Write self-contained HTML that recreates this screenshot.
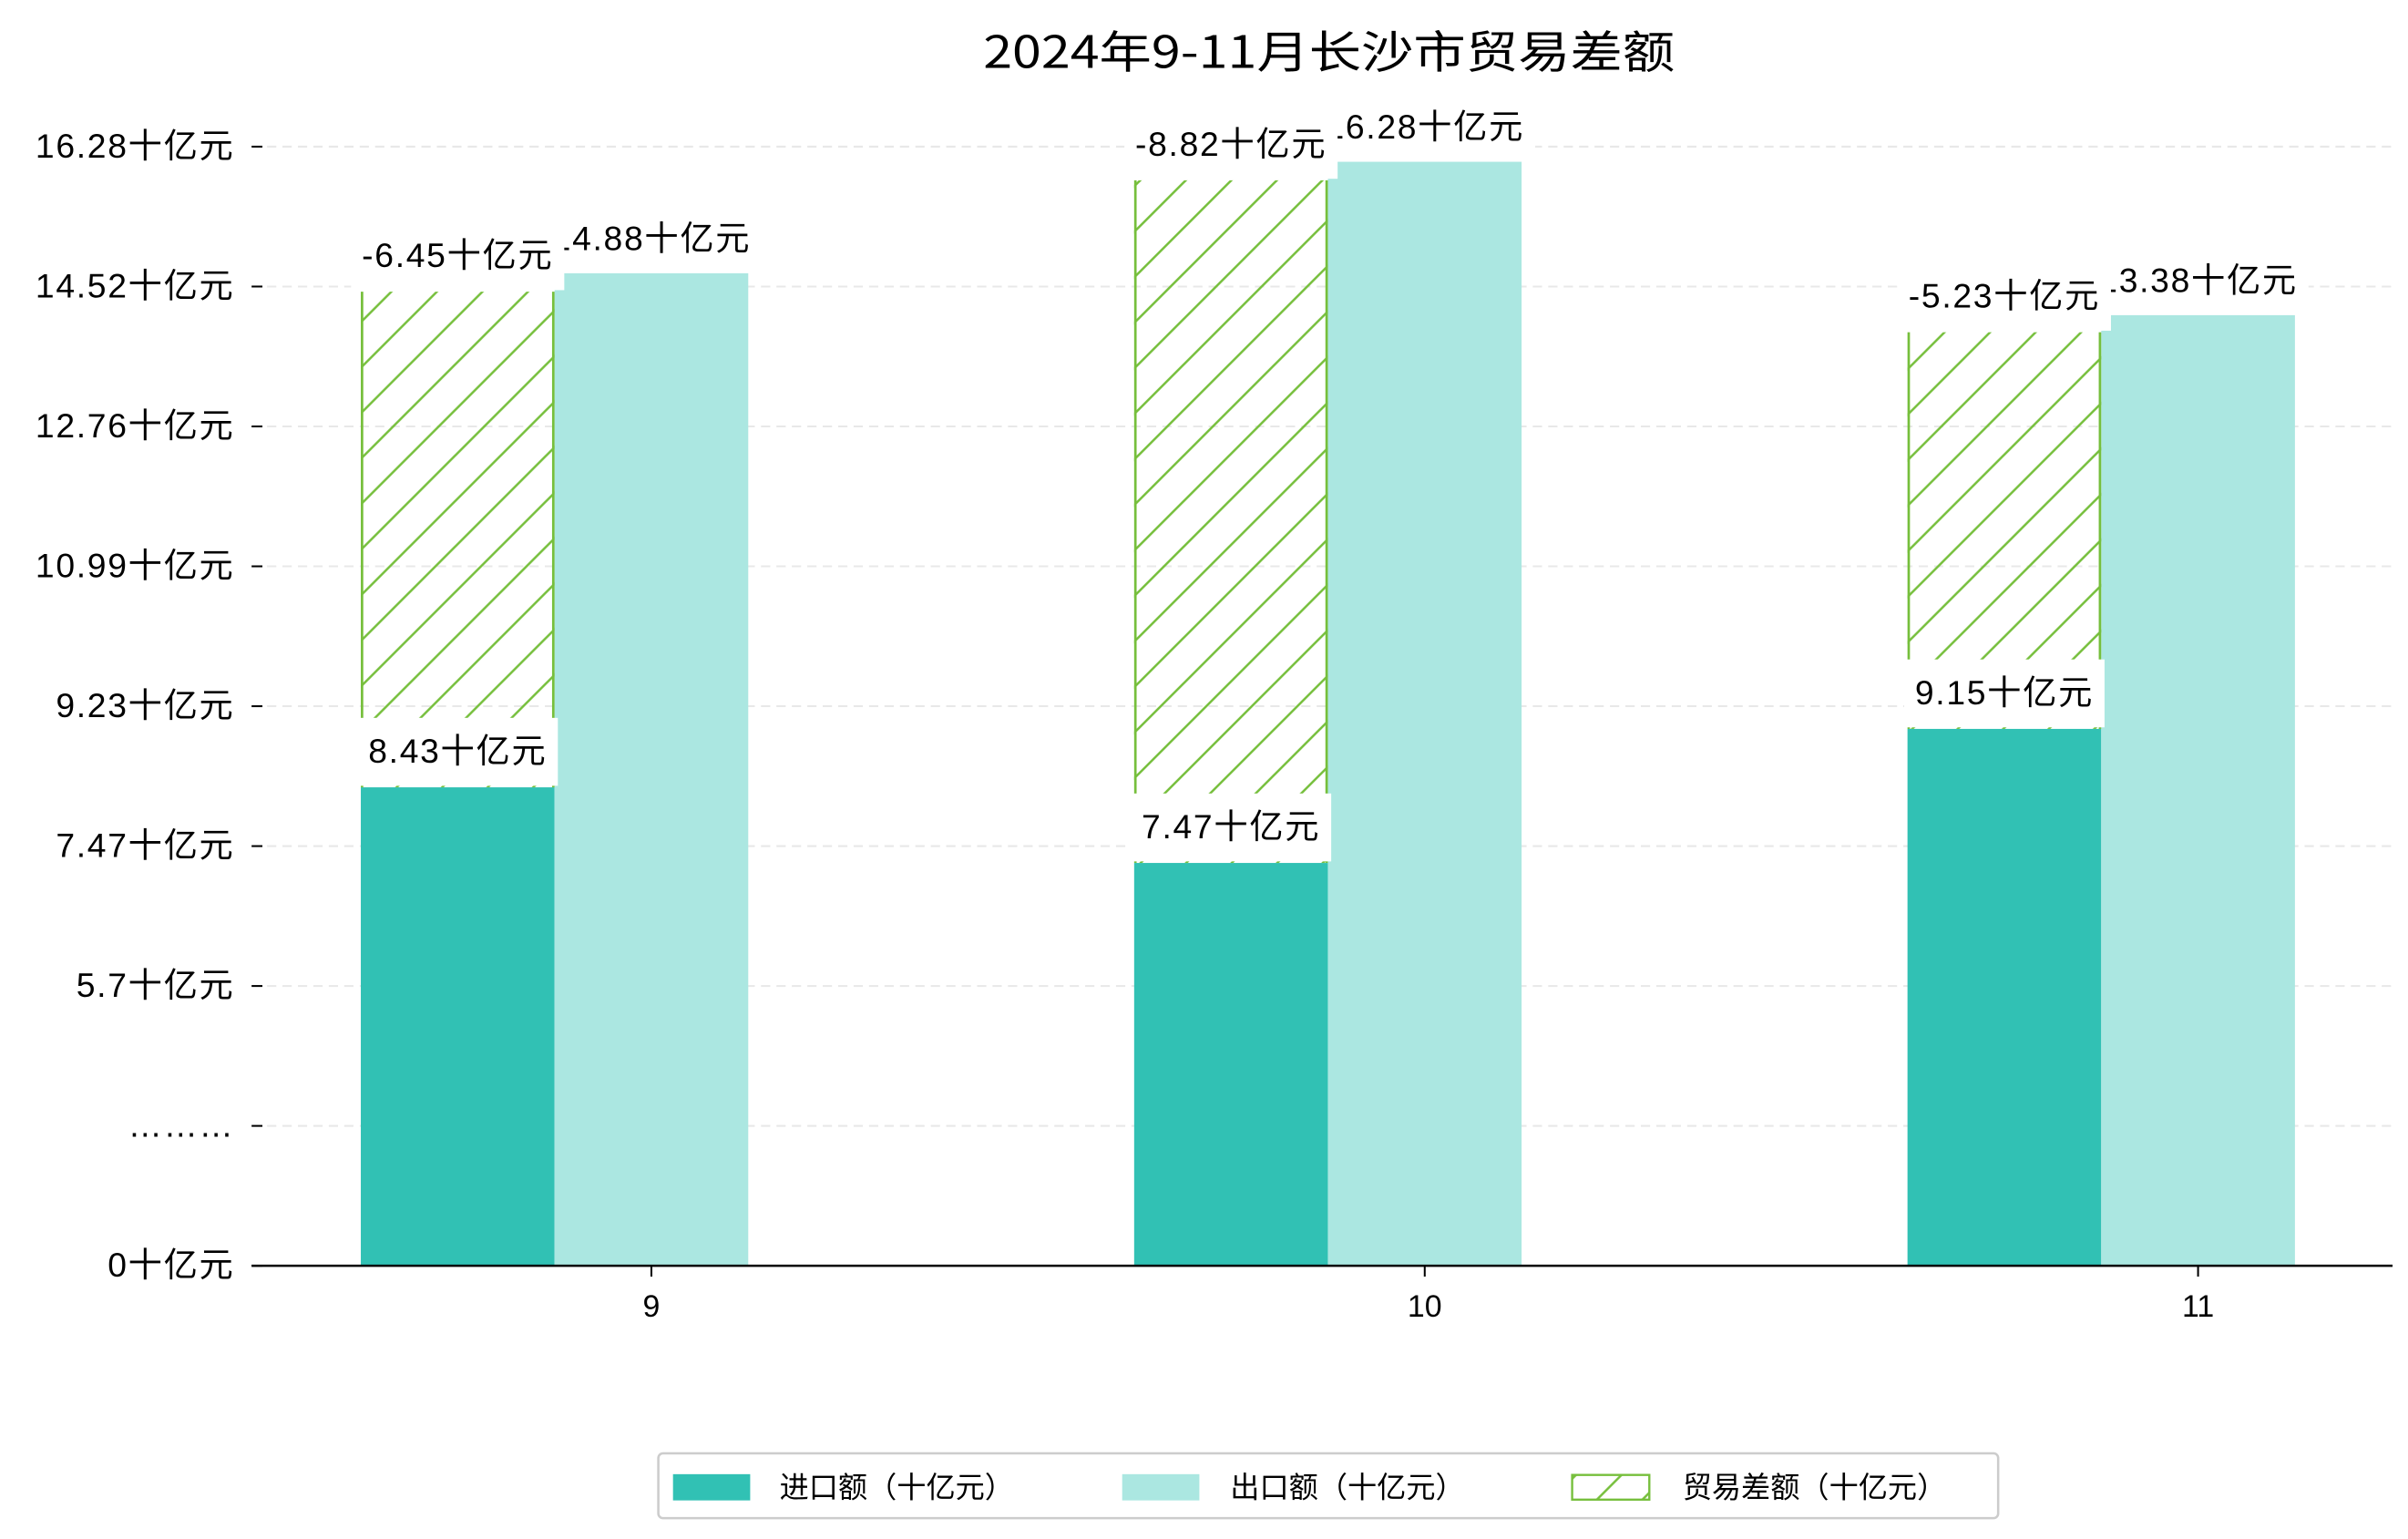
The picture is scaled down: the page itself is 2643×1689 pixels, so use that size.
<!DOCTYPE html>
<html><head><meta charset="utf-8"><style>
html,body{margin:0;padding:0;background:#fff;}
svg{display:block;font-family:"Liberation Sans","Noto Sans CJK SC",sans-serif;}
</style></head><body>
<svg id="chart" width="2643" height="1689" viewBox="0 0 1560 997" preserveAspectRatio="none" xmlns="http://www.w3.org/2000/svg">
<defs>
<pattern id="hatch" patternUnits="userSpaceOnUse" width="29.5" height="29.5">
<path d="M-2,31.5 L31.5,-2 M-31.5,31.5 L2,-2 M27.5,31.5 L61,-2" stroke="#76bf3c" stroke-width="1.5"/>
</pattern>
</defs>
<text x="861" y="44" text-anchor="middle" font-size="29" textLength="448" lengthAdjust="spacingAndGlyphs" font-family="'Noto Sans CJK SC',sans-serif">2024年9-11月长沙市贸易差额</text>
<g id="grid"></g><g id="bars"></g><g id="labels"></g><g id="axes"></g>
<g>
<rect x="426.5" y="941.5" width="868" height="42" rx="3" fill="#fff" stroke="#ccc" stroke-width="1.5"/>
<rect x="436" y="955" width="50" height="17" fill="#31c1b4"/>
<text x="505" y="970" font-size="19">进口额（十亿元）</text>
<rect x="727" y="955" width="50" height="17" fill="#abe7e1"/>
<text x="797" y="970" font-size="19">出口额（十亿元）</text>
<rect x="1018.5" y="955.5" width="50" height="16" fill="url(#hatch)" stroke="#76bf3c" stroke-width="1.4"/>
<text x="1090" y="970" font-size="19">贸易差额（十亿元）</text>
</g>
</svg>
<script>
const categories = ['9','10','11'];
const importValues = [6.96, 5.86, 7.81];
const exportValues = [14.44, 16.06, 13.83];
const balanceHeights = [7.21, 9.93, 5.77];
const importLabels = ['8.43十亿元','7.47十亿元','9.15十亿元'];
const exportLabels = ['14.88十亿元','16.28十亿元','13.38十亿元'];
const balanceLabels = ['-6.45十亿元','-8.82十亿元','-5.23十亿元'];
const yTickLabels = ['0十亿元','………','5.7十亿元','7.47十亿元','9.23十亿元','10.99十亿元','12.76十亿元','14.52十亿元','16.28十亿元'];
const yMaxTick = 16.28;

const NS='http://www.w3.org/2000/svg';
const plotL=163, plotR=1550, plotB=820, plotT=95;
function y(v){return plotB - v*(plotB-plotT)/yMaxTick;}
function xc(i){return 422 + i*501;}
const bw=125.5;
function mk(tag,attrs,parent){const e=document.createElementNS(NS,tag);for(const k in attrs)e.setAttribute(k,attrs[k]);parent.appendChild(e);return e;}
const grid=document.getElementById('grid'),bars=document.getElementById('bars'),labels=document.getElementById('labels'),axes=document.getElementById('axes');

yTickLabels.forEach((t,k)=>{
  const v=k*yMaxTick/(yTickLabels.length-1), yy=y(v);
  if(k>0){const g=mk('line',{x1:plotL,x2:plotR,y1:yy,y2:yy,stroke:'#e8e8e8','stroke-width':1.2,'stroke-dasharray':'6,4'},grid);
  
  }
  const tm=mk('line',{x1:163,x2:170,y1:yy,y2:yy,stroke:'#000','stroke-width':1.2},axes);
  
  
  const tx=mk('text',{x:152,y:yy+7,'text-anchor':'end','font-size':22,'letter-spacing':1},axes);
  tx.textContent=t;
  
  
});

categories.forEach((c,i)=>{
  const cx=xc(i);
  const ri=mk('rect',{x:cx-bw*1.5,y:y(importValues[i]),width:bw,height:plotB-y(importValues[i]),fill:'#31c1b4'},bars);
  
  
  const re=mk('rect',{x:cx-bw/2,y:y(exportValues[i]),width:bw,height:plotB-y(exportValues[i]),fill:'#abe7e1'},bars);
  
  
  const top=y(importValues[i]+balanceHeights[i]), bot=y(importValues[i]);
  const gb=mk('g',{},bars);
  
  
  mk('rect',{x:cx-bw*1.5,y:top,width:bw,height:bot-top,fill:'url(#hatch)'},gb);
  mk('line',{x1:cx-bw*1.5+0.8,x2:cx-bw*1.5+0.8,y1:top,y2:bot,stroke:'#76bf3c','stroke-width':1.6},gb);
  mk('line',{x1:cx-bw/2-0.8,x2:cx-bw/2-0.8,y1:top,y2:bot,stroke:'#76bf3c','stroke-width':1.6},gb);
  const tm=mk('line',{x1:cx,x2:cx,y1:plotB,y2:plotB+7,stroke:'#000','stroke-width':1.2},axes);
  
  
  const tl=mk('text',{x:cx,y:853,'text-anchor':'middle','font-size':20},axes);
  tl.textContent=c;
  
  
});

function boxLabel(txt,cx,cy,name){
  const g=mk('g',{},labels);
  
  
  const r=mk('rect',{fill:'#fff'},g);
  const t=mk('text',{x:cx,y:cy+7,'text-anchor':'middle','font-size':22,'letter-spacing':1},g);
  t.textContent=txt;
  const w=t.getComputedTextLength()+14;
  r.setAttribute('x',cx-w/2);r.setAttribute('y',cy-22);r.setAttribute('width',w);r.setAttribute('height',44);
}
categories.forEach((c,i)=>{boxLabel(exportLabels[i],xc(i),y(exportValues[i])-22,'export-value-label-'+c);});
categories.forEach((c,i)=>{
  boxLabel(importLabels[i],xc(i)-bw,y(importValues[i])-23,'import-value-label-'+c);
  boxLabel(balanceLabels[i],xc(i)-bw,y(importValues[i]+balanceHeights[i])-23,'balance-value-label-'+c);
});
const ax=mk('line',{x1:plotL,x2:plotR,y1:plotB,y2:plotB,stroke:'#000','stroke-width':1.5},axes);


</script>
</body></html>
